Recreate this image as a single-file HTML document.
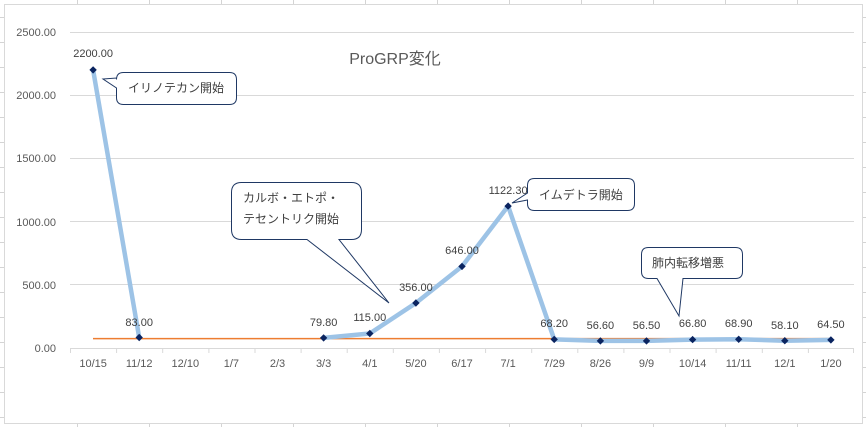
<!DOCTYPE html>
<html><head><meta charset="utf-8"><style>
html,body{margin:0;padding:0;background:#fff;}
svg{display:block;}
text{font-family:"Liberation Sans","Noto Sans CJK JP",sans-serif;}
</style></head><body>
<svg width="866" height="427" viewBox="0 0 866 427" xmlns="http://www.w3.org/2000/svg">
<rect x="0" y="0" width="866" height="427" fill="#fff"/>
<!-- spreadsheet grid outside chart -->
<g stroke="#D4D4D4" stroke-width="1">
  <path d="M77.5,0V4 M149.5,0V4 M221.5,0V4 M293.5,0V4 M365.5,0V4 M437.5,0V4 M509.5,0V4 M581.5,0V4 M653.5,0V4 M725.5,0V4 M797.5,0V4"/>
  <path d="M77.5,423V427 M149.5,423V427 M221.5,423V427 M293.5,423V427 M365.5,423V427 M437.5,423V427 M509.5,423V427 M581.5,423V427 M653.5,423V427 M725.5,423V427 M797.5,423V427"/>
  <path d="M0,17.5H4 M0,42.5H4 M0,67.5H4 M0,92.5H4 M0,117.5H4 M0,142.5H4 M0,167.5H4 M0,192.5H4 M0,217.5H4 M0,242.5H4 M0,267.5H4 M0,292.5H4 M0,317.5H4 M0,342.5H4 M0,367.5H4 M0,392.5H4 M0,417.5H4"/>
  <path d="M862,17.5H866 M862,42.5H866 M862,67.5H866 M862,92.5H866 M862,117.5H866 M862,142.5H866 M862,167.5H866 M862,192.5H866 M862,217.5H866 M862,242.5H866 M862,267.5H866 M862,292.5H866 M862,317.5H866 M862,342.5H866 M862,367.5H866 M862,392.5H866 M862,417.5H866"/>
</g>
<!-- chart border -->
<rect x="4.5" y="4.5" width="858" height="419" fill="#fff" stroke="#D9D9D9" stroke-width="1"/>
<!-- gridlines -->
<g stroke="#D9D9D9" stroke-width="1">
  <path d="M70,32.5H854 M70,95.5H854 M70,158.5H854 M70,221.5H854 M70,284.5H854"/>
  <path d="M70,348.5H854"/>
  <path d="M70.5,348V353 M116.6,348V353 M162.7,348V353 M208.9,348V353 M255,348V353 M301.1,348V353 M347.2,348V353 M393.3,348V353 M439.4,348V353 M485.6,348V353 M531.7,348V353 M577.8,348V353 M623.9,348V353 M670,348V353 M716.1,348V353 M762.3,348V353 M808.4,348V353 M853.5,348V353"/>
</g>
<!-- y labels -->
<g fill="#595959" font-size="11" text-anchor="end">
  <text x="56" y="36">2500.00</text>
  <text x="56" y="99">2000.00</text>
  <text x="56" y="162">1500.00</text>
  <text x="56" y="226">1000.00</text>
  <text x="56" y="289">500.00</text>
  <text x="56" y="352">0.00</text>
</g>
<!-- x labels -->
<g fill="#595959" font-size="11" text-anchor="middle">
  <text x="93.1" y="367">10/15</text>
  <text x="139.2" y="367">11/12</text>
  <text x="185.3" y="367">12/10</text>
  <text x="231.4" y="367">1/7</text>
  <text x="277.5" y="367">2/3</text>
  <text x="323.6" y="367">3/3</text>
  <text x="369.8" y="367">4/1</text>
  <text x="415.9" y="367">5/20</text>
  <text x="462" y="367">6/17</text>
  <text x="508.1" y="367">7/1</text>
  <text x="554.2" y="367">7/29</text>
  <text x="600.4" y="367">8/26</text>
  <text x="646.5" y="367">9/9</text>
  <text x="692.6" y="367">10/14</text>
  <text x="738.7" y="367">11/11</text>
  <text x="784.8" y="367">12/1</text>
  <text x="830.9" y="367">1/20</text>
</g>
<!-- title -->
<text x="395" y="64" fill="#595959" font-size="16" text-anchor="middle">ProGRP変化</text>
<!-- orange reference line -->
<path d="M93,338.6H831" stroke="#ED7D31" stroke-width="1.5" fill="none"/>
<!-- blue series -->
<g stroke="#9DC3E6" stroke-width="4.5" fill="none" stroke-linejoin="round" stroke-linecap="round">
  <polyline points="93.1,69.9 139.2,337.5"/>
  <polyline points="323.6,337.9 369.8,333.5 415.9,303 462,266.4 508.1,206.1 554.2,339.4 600.4,340.9 646.5,340.9 692.6,339.6 738.7,339.3 784.8,340.7 830.9,339.9"/>
</g>
<!-- markers -->
<g fill="#0A2460">
  <path d="M93.1,66.2l3.7,3.7l-3.7,3.7l-3.7,-3.7z"/>
  <path d="M139.2,333.8l3.7,3.7l-3.7,3.7l-3.7,-3.7z"/>
  <path d="M323.6,334.2l3.7,3.7l-3.7,3.7l-3.7,-3.7z"/>
  <path d="M369.8,329.8l3.7,3.7l-3.7,3.7l-3.7,-3.7z"/>
  <path d="M415.9,299.3l3.7,3.7l-3.7,3.7l-3.7,-3.7z"/>
  <path d="M462,262.7l3.7,3.7l-3.7,3.7l-3.7,-3.7z"/>
  <path d="M508.1,202.4l3.7,3.7l-3.7,3.7l-3.7,-3.7z"/>
  <path d="M554.2,335.7l3.7,3.7l-3.7,3.7l-3.7,-3.7z"/>
  <path d="M600.4,337.2l3.7,3.7l-3.7,3.7l-3.7,-3.7z"/>
  <path d="M646.5,337.2l3.7,3.7l-3.7,3.7l-3.7,-3.7z"/>
  <path d="M692.6,335.9l3.7,3.7l-3.7,3.7l-3.7,-3.7z"/>
  <path d="M738.7,335.6l3.7,3.7l-3.7,3.7l-3.7,-3.7z"/>
  <path d="M784.8,337l3.7,3.7l-3.7,3.7l-3.7,-3.7z"/>
  <path d="M830.9,336.2l3.7,3.7l-3.7,3.7l-3.7,-3.7z"/>
</g>
<!-- data labels -->
<g fill="#404040" font-size="11" text-anchor="middle">
  <text x="93.1" y="57">2200.00</text>
  <text x="139.2" y="326">83.00</text>
  <text x="323.6" y="326">79.80</text>
  <text x="369.8" y="321">115.00</text>
  <text x="415.9" y="291">356.00</text>
  <text x="462" y="254">646.00</text>
  <text x="508.1" y="194">1122.30</text>
  <text x="554.2" y="327">68.20</text>
  <text x="600.4" y="329">56.60</text>
  <text x="646.5" y="329">56.50</text>
  <text x="692.6" y="327">66.80</text>
  <text x="738.7" y="327">68.90</text>
  <text x="784.8" y="329">58.10</text>
  <text x="830.9" y="328">64.50</text>
</g>
<!-- callouts -->
<g fill="#fff" stroke="#1F3864" stroke-width="1">
  <path d="M123.5,72.5H229.5Q236.5,72.5 236.5,79.5V97.5Q236.5,104.5 229.5,104.5H123.5Q116.5,104.5 116.5,97.5V88L103,79L116.5,78V79.5Q116.5,72.5 123.5,72.5Z"/>
  <path d="M241.5,182.5H351.5Q361.5,182.5 361.5,192.5V229.5Q361.5,239.5 351.5,239.5H339L389,303L307,239.5H241.5Q231.5,239.5 231.5,229.5V192.5Q231.5,182.5 241.5,182.5Z"/>
  <path d="M534.5,178.5H627.5Q634.5,178.5 634.5,185.5V203.5Q634.5,210.5 627.5,210.5H534.5Q527.5,210.5 527.5,203.5V200L512,203L527.5,193V185.5Q527.5,178.5 534.5,178.5Z"/>
  <path d="M648.5,247.5H735.5Q742.5,247.5 742.5,254.5V271.5Q742.5,278.5 735.5,278.5H683L679,316L657,278.5H648.5Q641.5,278.5 641.5,271.5V254.5Q641.5,247.5 648.5,247.5Z"/>
</g>
<g fill="#404040" font-size="12">
  <text x="128" y="92">イリノテカン開始</text>
  <text x="243" y="202">カルボ・エトポ・</text>
  <text x="243" y="223">テセントリク開始</text>
  <text x="539" y="199">イムデトラ開始</text>
  <text x="652" y="267">肺内転移増悪</text>
</g>
</svg>
</body></html>
